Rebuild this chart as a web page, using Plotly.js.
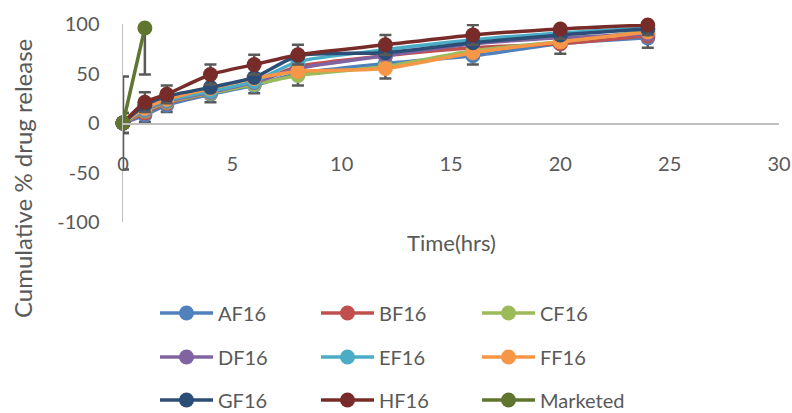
<!DOCTYPE html>
<html>
<head>
<meta charset="utf-8">
<script src="https://cdn.plot.ly/plotly-3.0.1.min.js"></script>
<style>html,body{margin:0;padding:0;background:#fff;}#chart{width:792px;height:413px;}</style>
</head>
<body>
<div id="chart"></div>
<script>
const time = [0, 1, 2, 4, 6, 8, 12, 16, 20, 24];
const timeMarketed = [0, 1];

const AF16 = [0, 8, 18, 29, 38, 50, 60, 68, 80, 86];
const BF16 = [0, 10, 20, 30, 40, 57, 68, 76, 80, 88];
const CF16 = [0, 12, 21, 30, 39, 48, 57, 73, 82, 93];
const DF16 = [0, 13, 22, 31, 41, 55, 68, 80, 86, 90];
const EF16 = [0, 14, 23, 32, 42, 62, 74, 84, 91, 96];
const FF16 = [0, 15, 24, 35, 45, 52, 55, 71, 82, 92];
const GF16 = [0, 18, 27, 36, 46, 68, 71, 81, 89, 95];
const HF16 = [0, 21, 29, 49, 59, 69, 79, 89, 95, 99];
const Marketed = [0, 96];

const errAF16 = [10, 7, 7, 8, 8, 12, 15, 9, 10, 10];
const errHF16 = [10, 10, 9, 10, 10, 10, 10, 10, 10, 10];
const errMarketed = [47, 47];

const yTickVals = [-100, -50, 0, 50, 100];
const yTickText = ['-100', '-50', '0', '50', '100'];

const names = ['AF16','BF16','CF16','DF16','EF16','FF16','GF16','HF16','Marketed'];
const colors = ['#4F81BD','#C0504D','#9BBB59','#8064A2','#4BACC6','#F79646','#2C4D75','#772C2A','#5F7530'];
const series = [AF16, BF16, CF16, DF16, EF16, FF16, GF16, HF16, Marketed];
const errs = [errAF16, null, null, null, null, null, null, errHF16, errMarketed];
const legendIds = ['legend','legend','legend','legend2','legend2','legend2','legend3','legend3','legend3'];

const traces = series.map((vals, i) => {
  const t = {
    type: 'scatter',
    mode: 'lines+markers',
    name: names[i],
    x: names[i] === 'Marketed' ? timeMarketed : time,
    y: vals,
    line: {color: colors[i], width: 3.5, shape: 'spline', smoothing: 0.6},
    marker: {color: colors[i], size: 15},
    cliponaxis: false,
    legend: legendIds[i],
    hoverinfo: 'skip'
  };
  if (errs[i]) {
    t.error_y = {type: 'data', array: errs[i], visible: true, color: '#595959', thickness: 2.5, width: 6};
  }
  return t;
});

const fontFam = 'Lato, "Open Sans", sans-serif';
const gray = '#595959';
const legendBase = {
  orientation: 'h',
  xref: 'container', yref: 'container',
  x: 155/792, xanchor: 'left', yanchor: 'middle',
  entrywidth: 93, entrywidthmode: 'pixels',
  itemwidth: 53,
  font: {family: fontFam, size: 20, color: gray},
  bgcolor: 'rgba(0,0,0,0)',
  itemclick: false, itemdoubleclick: false
};

const layout = {
  width: 792, height: 413,
  margin: {l: 123, r: 13, t: 24, b: 191},
  paper_bgcolor: '#fff', plot_bgcolor: '#fff',
  font: {family: fontFam, size: 20, color: gray},
  showlegend: true,
  xaxis: {
    range: [0, 30], dtick: 5, tick0: 0,
    showgrid: false, zeroline: false,
    showline: true, linecolor: '#BFBFBF', linewidth: 1.5,
    anchor: 'free', position: 0.5,
    ticks: '', ticklabelstandoff: 22,
    tickfont: {family: fontFam, size: 20, color: gray}
  },
  yaxis: {
    range: [-100, 100], tickmode: 'array', tickvals: yTickVals, ticktext: yTickText,
    showgrid: false, zeroline: false,
    showline: true, linecolor: '#BFBFBF', linewidth: 1.5,
    ticks: '', ticklabelstandoff: 18,
    tickfont: {family: fontFam, size: 20, color: gray}
  },
  legend: Object.assign({}, legendBase, {y: 1 - 313/413}),
  legend2: Object.assign({}, legendBase, {y: 1 - 357/413}),
  legend3: Object.assign({}, legendBase, {y: 1 - 400/413}),
  annotations: [
    {text: 'Time(hrs)', xref: 'paper', x: 0.5, yref: 'paper', y: (222 - 243) / 198, showarrow: false,
     font: {family: fontFam, size: 22, color: gray}, xanchor: 'center', yanchor: 'middle'},
    {text: 'Cumulative % drug release', xref: 'paper', x: (22 - 123) / 656, yref: 'paper', y: (222 - 179) / 198,
     showarrow: false, textangle: -90, font: {family: fontFam, size: 24, color: gray},
     xanchor: 'center', yanchor: 'middle'}
  ]
};

Plotly.newPlot('chart', traces, layout, {staticPlot: true, displayModeBar: false});
</script>
</body>
</html>
